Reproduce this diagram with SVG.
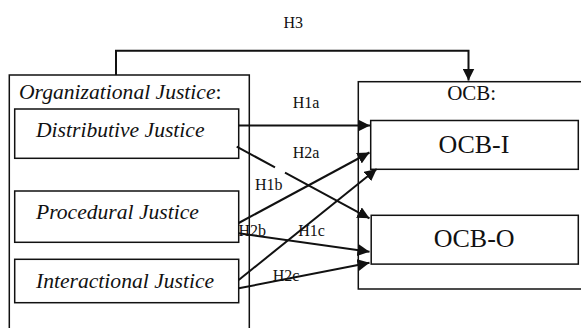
<svg xmlns="http://www.w3.org/2000/svg" width="581" height="328" viewBox="0 0 581 328">
<defs>
<style>
.box{fill:none;stroke:#111;stroke-width:1.5}
.con{fill:none;stroke:#111;stroke-width:2}
.t{font-family:"Liberation Serif","Times New Roman",serif;fill:#111}
.it{font-style:italic;font-size:21.6px}
.lbl{font-size:16px}
</style>
<marker id="ah" viewBox="0 0 12 12" refX="12" refY="6" markerWidth="12" markerHeight="12" markerUnits="userSpaceOnUse" orient="auto">
<path d="M0,0 L12,6 L0,12 Z" fill="#111"/>
</marker>
</defs>
<rect width="581" height="328" fill="#fff"/>
<g id="organizational-justice">
<rect class="box" x="9.3" y="75" width="240" height="270"/>
<text class="t it" x="19" y="99.3">Organizational Justice<tspan font-style="normal">:</tspan></text>
</g>
<g id="distributive-justice">
<rect class="box" x="14.7" y="109" width="224" height="49.3"/>
<text class="t it" x="36" y="137.3">Distributive Justice</text>
</g>
<g id="procedural-justice">
<rect class="box" x="14.7" y="191" width="224" height="51.3"/>
<text class="t it" x="36" y="219.3">Procedural Justice</text>
</g>
<g id="interactional-justice">
<rect class="box" x="14.7" y="259.3" width="224" height="43.4"/>
<text class="t it" x="36" y="288.3">Interactional Justice</text>
</g>
<g id="ocb">
<rect class="box" x="358.3" y="81.7" width="240" height="207.3"/>
<text class="t" x="471.7" y="100" font-size="21" text-anchor="middle">OCB:</text>
</g>
<g id="ocb-i">
<rect class="box" x="370.7" y="120.5" width="207.6" height="48.8"/>
<text class="t" x="474" y="153.3" font-size="26" text-anchor="middle">OCB-I</text>
</g>
<g id="ocb-o">
<rect class="box" x="371.2" y="215.3" width="207.1" height="48.8"/>
<text class="t" x="474.2" y="246.7" font-size="26" text-anchor="middle">OCB-O</text>
</g>
<g id="connectors">
<path class="con" d="M116,75 V50.7 H468.5 V80.5" marker-end="url(#ah)"/>
<path class="con" d="M238.7,125.5 H370" marker-end="url(#ah)"/>
<path class="con" d="M236.7,146.7 L275,167.3 M285,172.6 L369.5,218.3" marker-end="url(#ah)"/>
<path class="con" d="M238.7,223 L369.5,152.5" marker-end="url(#ah)"/>
<path class="con" d="M238.7,233.3 L369.5,251.7" marker-end="url(#ah)"/>
<path class="con" d="M238.7,280 L376.7,169" marker-end="url(#ah)"/>
<path class="con" d="M238.7,288.3 L369.5,262.7" marker-end="url(#ah)"/>
</g>
<g id="labels">
<text class="t lbl" x="283.5" y="28.3">H3</text>
<text class="t lbl" x="292.7" y="107.7">H1a</text>
<text class="t lbl" x="292.7" y="157.7">H2a</text>
<text class="t lbl" x="255" y="190">H1b</text>
<text class="t lbl" x="238.5" y="236">H2b</text>
<text class="t lbl" x="298.3" y="236">H1c</text>
<text class="t lbl" x="272.7" y="281">H2c</text>
</g>
</svg>
